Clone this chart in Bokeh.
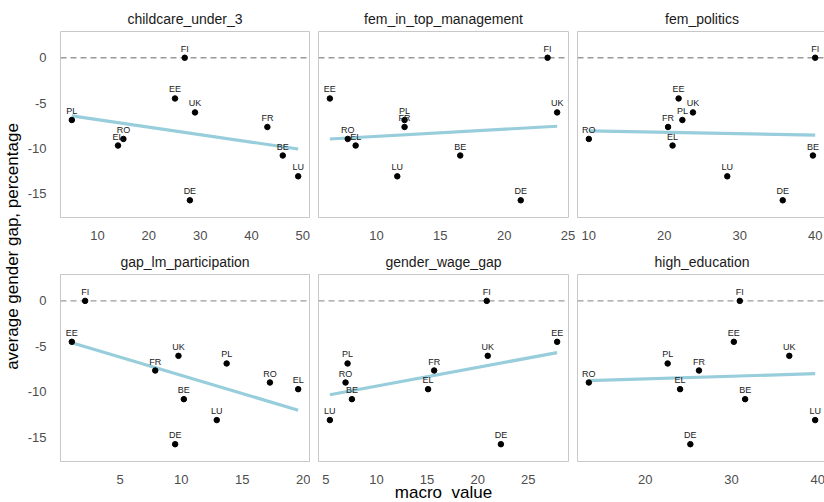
import numpy as np
from bokeh.plotting import figure
from bokeh.models import Range1d, FixedTicker, Span, Label
from bokeh.layouts import row, column
from bokeh.core.properties import value
from bokeh.embed import file_html
from bokeh.resources import INLINE

# ---------------- data ----------------
countries = ["BE", "DE", "EE", "EL", "FI", "FR", "LU", "PL", "RO", "UK"]
gender_gap = [-10.8, -15.75, -4.5, -9.7, 0.0, -7.65, -13.1, -6.88, -8.97, -6.04]

childcare_under_3 = [46.1, 28.0, 25.1, 14.0, 27.0, 43.1, 49.1, 5.0, 15.05, 29.0]
fem_in_top_management = [16.56, 21.3, 6.35, 8.37, 23.4, 12.2, 11.63, 12.2, 7.75, 24.15]
fem_politics = [39.7, 35.7, 21.9, 21.1, 40.0, 20.5, 28.35, 22.4, 10.0, 23.8]
gap_lm_participation = [10.22, 9.51, 1.06, 19.57, 2.15, 7.88, 12.91, 13.72, 17.26, 9.78]
gender_wage_gap = [7.57, 22.3, 27.86, 15.1, 20.9, 15.7, 5.39, 7.14, 6.94, 21.0]
high_education = [31.58, 25.23, 30.27, 24.04, 30.96, 26.23, 39.7, 22.6, 13.46, 36.7]

panel_names = ["childcare_under_3", "fem_in_top_management", "fem_politics",
               "gap_lm_participation", "gender_wage_gap", "high_education"]
panel_values = [childcare_under_3, fem_in_top_management, fem_politics,
                gap_lm_participation, gender_wage_gap, high_education]
x_ticks = [[10, 20, 30, 40, 50], [10, 15, 20, 25], [10, 20, 30, 40],
           [5, 10, 15, 20], [5, 10, 15, 20, 25], [20, 30, 40]]
y_ticks = [-15, -10, -5, 0]
y_tick_labels = ["-15", "-10", "-5", "0"]
y_limits = [-17.65, 2.9]
reference_level = 0

x_title = "macro\u00a0 value"
y_title = "average gender gap, percentage"

FONT = "Liberation Sans"


def make_panel(idx):
    r, c = divmod(idx, 3)
    name = panel_names[idx]
    xs = np.array(panel_values[idx], dtype=float)
    ys = np.array(gender_gap, dtype=float)
    span = xs.max() - xs.min()
    xr = Range1d(xs.min() - 0.05 * span, xs.max() + 0.05 * span)
    yr = Range1d(*y_limits)
    p = figure(
        x_range=xr, y_range=yr,
        frame_width=[249, 250, 249][c],
        frame_height=[186, 187][r],
        min_border_left=[33, 8, 1][c],
        min_border_right=[1, 8, 1][c],
        min_border_top=[31, 29][r],
        min_border_bottom=[28, 41][r],
        toolbar_location=None,
        output_backend="svg",
        y_axis_location="left" if c == 0 else None,
        title=name,
    )
    p.background_fill_color = "white"
    p.border_fill_color = "white"
    p.outline_line_color = "#c8c8c8"
    p.outline_line_width = 1
    p.xgrid.visible = False
    p.ygrid.visible = False

    p.title.align = "center"
    p.title.text_font = FONT
    p.title.text_font_size = "14px"
    p.title.text_font_style = "normal"
    p.title.text_color = "#1a1a1a"

    xa = p.xaxis[0]
    xa.ticker = FixedTicker(ticks=x_ticks[idx])
    xa.major_tick_line_color = None
    xa.minor_tick_line_color = None
    xa.axis_line_color = None
    xa.major_label_standoff = 7
    xa.major_label_text_font = FONT
    xa.major_label_text_font_size = "13px"
    xa.major_label_text_color = "#4d4d4d"
    if idx == 4:
        xa.axis_label = x_title
        xa.axis_label_standoff = -4
        xa.axis_label_text_font = FONT
        xa.axis_label_text_font_size = "17px"
        xa.axis_label_text_font_style = "normal"
        xa.axis_label_text_color = "black"

    if c == 0:
        ya = p.yaxis[0]
        ya.ticker = FixedTicker(ticks=y_ticks)
        ya.major_label_overrides = {t: l for t, l in zip(y_ticks, y_tick_labels)}
        ya.major_tick_line_color = None
        ya.minor_tick_line_color = None
        ya.axis_line_color = None
        ya.major_label_standoff = 8
        ya.major_label_text_font = FONT
        ya.major_label_text_font_size = "13px"
        ya.major_label_text_color = "#4d4d4d"

    ref = Span(location=reference_level, dimension="width", line_color="#9a9a9a",
               line_dash="6 4", line_width=1.4, level="underlay")
    p.add_layout(ref)

    slope, intercept = np.polyfit(xs, ys, 1)
    lx = np.array([xs.min(), xs.max()])
    p.line(lx, slope * lx + intercept, line_color="#98cddb", line_width=3.2)

    p.scatter(xs, ys, size=5.5, color="black")
    p.text(xs, ys, text=countries, text_font=value(FONT), text_font_size="9px",
           text_align="center", text_baseline="middle", y_offset=-9,
           text_color="#1a1a1a")
    return p


panels = [make_panel(i) for i in range(6)]

ylab = figure(width=24, height=502, x_range=Range1d(0, 24), y_range=Range1d(0, 502),
              toolbar_location=None, output_backend="svg", min_border=0,
              x_axis_location=None, y_axis_location=None)
ylab.outline_line_color = None
ylab.xgrid.visible = False
ylab.ygrid.visible = False
ylab.add_layout(Label(x=12, y=502 - 246, text=y_title, angle=np.pi / 2,
                      text_align="center", text_baseline="middle",
                      text_font=FONT, text_font_size="17px", text_color="black"))

layout = row(ylab, column(row(*panels[:3]), row(*panels[3:])))

open("out.html", "w").write(file_html(layout, INLINE))
